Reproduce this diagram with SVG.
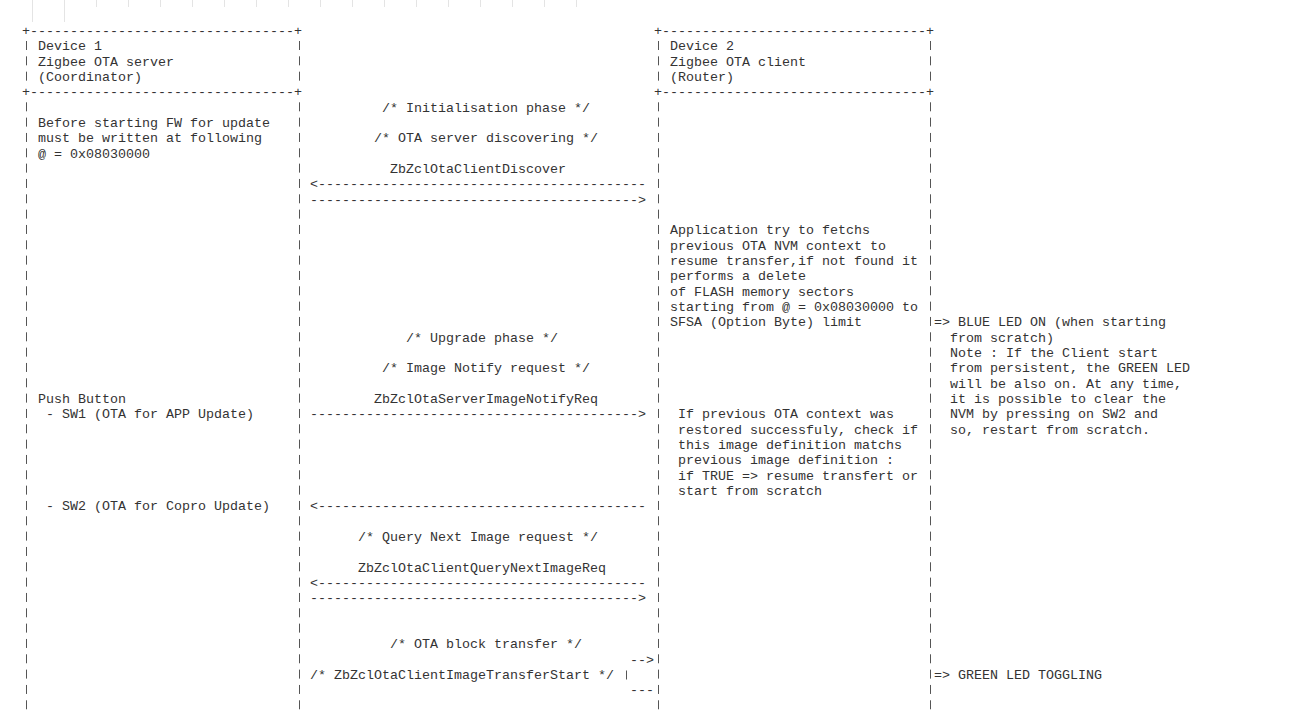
<svg xmlns="http://www.w3.org/2000/svg" width="1300" height="712" viewBox="0 0 1300 712" xml:space="preserve">
<style>
text{font-family:"Liberation Mono","DejaVu Sans Mono",monospace;font-size:13.33px;fill:#333;}
.bar{stroke:#555;stroke-width:1;stroke-dasharray:9 6.333;fill:none;}
.tick{stroke:#e4e4e4;stroke-width:1;}
</style>
<rect width="1300" height="712" fill="#fff"/>
<g id="top-ticks">
<line class="tick" x1="32.5" y1="0" x2="32.5" y2="22"/>
<line class="tick" x1="64.5" y1="0" x2="64.5" y2="22"/>
<line class="tick" x1="96.5" y1="0" x2="96.5" y2="7"/>
<line class="tick" x1="128.5" y1="0" x2="128.5" y2="7"/>
<line class="tick" x1="160.5" y1="0" x2="160.5" y2="7"/>
<line class="tick" x1="192.5" y1="0" x2="192.5" y2="7"/>
<line class="tick" x1="224.5" y1="0" x2="224.5" y2="7"/>
<line class="tick" x1="256.5" y1="0" x2="256.5" y2="7"/>
<line class="tick" x1="288.5" y1="0" x2="288.5" y2="7"/>
<line class="tick" x1="320.5" y1="0" x2="320.5" y2="7"/>
<line class="tick" x1="352.5" y1="0" x2="352.5" y2="7"/>
<line class="tick" x1="384.5" y1="0" x2="384.5" y2="7"/>
<line class="tick" x1="416.5" y1="0" x2="416.5" y2="7"/>
<line class="tick" x1="448.5" y1="0" x2="448.5" y2="7"/>
<line class="tick" x1="480.5" y1="0" x2="480.5" y2="7"/>
<line class="tick" x1="512.5" y1="0" x2="512.5" y2="7"/>
<line class="tick" x1="544.5" y1="0" x2="544.5" y2="7"/>
<line class="tick" x1="576.5" y1="0" x2="576.5" y2="7"/>
</g>
<g id="device1">
<text x="22" y="35">+---------------------------------+</text>
<text x="22" y="96.33">+---------------------------------+</text>
<line class="bar" x1="26.5" y1="41" x2="26.5" y2="87"/>
<line class="bar" x1="26.5" y1="102.3" x2="26.5" y2="712"/>
<line class="bar" x1="299.5" y1="41" x2="299.5" y2="87"/>
<line class="bar" x1="299.5" y1="102.3" x2="299.5" y2="712"/>
<text x="38" y="50.33">Device 1</text>
<text x="38" y="65.67">Zigbee OTA server</text>
<text x="38" y="81">(Coordinator)</text>
<text x="38" y="127">Before starting FW for update</text>
<text x="38" y="142.33">must be written at following</text>
<text x="38" y="157.67">@ = 0x08030000</text>
<text x="38" y="403">Push Button</text>
<text x="46" y="418.33">- SW1 (OTA for APP Update)</text>
<text x="46" y="510.33">- SW2 (OTA for Copro Update)</text>
</g>
<g id="device2">
<text x="654" y="35">+---------------------------------+</text>
<text x="654" y="96.33">+---------------------------------+</text>
<line class="bar" x1="658.5" y1="41" x2="658.5" y2="87"/>
<line class="bar" x1="658.5" y1="102.3" x2="658.5" y2="712"/>
<line class="bar" x1="930.5" y1="41" x2="930.5" y2="87"/>
<line class="bar" x1="930.5" y1="102.3" x2="930.5" y2="712"/>
<text x="670" y="50.33">Device 2</text>
<text x="670" y="65.67">Zigbee OTA client</text>
<text x="670" y="81">(Router)</text>
<text x="670" y="234.33">Application try to fetchs</text>
<text x="670" y="249.67">previous OTA NVM context to</text>
<text x="670" y="265">resume transfer,if not found it</text>
<text x="670" y="280.33">performs a delete</text>
<text x="670" y="295.67">of FLASH memory sectors</text>
<text x="670" y="311">starting from @ = 0x08030000 to</text>
<text x="670" y="326.33">SFSA (Option Byte) limit</text>
<text x="678" y="418.33">If previous OTA context was</text>
<text x="678" y="433.67">restored successfuly, check if</text>
<text x="678" y="449">this image definition matchs</text>
<text x="678" y="464.33">previous image definition :</text>
<text x="678" y="479.67">if TRUE =&gt; resume transfert or</text>
<text x="678" y="495">start from scratch</text>
</g>
<g id="connectors">
<text x="382" y="111.67">/* Initialisation phase */</text>
<text x="374" y="142.33">/* OTA server discovering */</text>
<text x="390" y="173">ZbZclOtaClientDiscover</text>
<text x="310" y="188.33">&lt;-----------------------------------------</text>
<text x="310" y="203.67">-----------------------------------------&gt;</text>
<text x="406" y="341.67">/* Upgrade phase */</text>
<text x="382" y="372.33">/* Image Notify request */</text>
<text x="374" y="403">ZbZclOtaServerImageNotifyReq</text>
<text x="310" y="418.33">-----------------------------------------&gt;</text>
<text x="310" y="510.33">&lt;-----------------------------------------</text>
<text x="358" y="541">/* Query Next Image request */</text>
<text x="358" y="571.67">ZbZclOtaClientQueryNextImageReq</text>
<text x="310" y="587">&lt;-----------------------------------------</text>
<text x="310" y="602.33">-----------------------------------------&gt;</text>
<text x="390" y="648.33">/* OTA block transfer */</text>
<text x="630" y="663.67">--&gt;</text>
<text x="310" y="679">/* ZbZclOtaClientImageTransferStart */</text>
<line class="bar" x1="626.5" y1="670.5" x2="626.5" y2="679.5"/>
<text x="630" y="694.33">---</text>
</g>
<g id="notes">
<text x="934" y="326.33">=&gt; BLUE LED ON (when starting</text>
<text x="950" y="341.67">from scratch)</text>
<text x="950" y="357">Note : If the Client start</text>
<text x="950" y="372.33">from persistent, the GREEN LED</text>
<text x="950" y="387.67">will be also on. At any time,</text>
<text x="950" y="403">it is possible to clear the</text>
<text x="950" y="418.33">NVM by pressing on SW2 and</text>
<text x="950" y="433.67">so, restart from scratch.</text>
<text x="934" y="679">=&gt; GREEN LED TOGGLING</text>
</g>
</svg>
